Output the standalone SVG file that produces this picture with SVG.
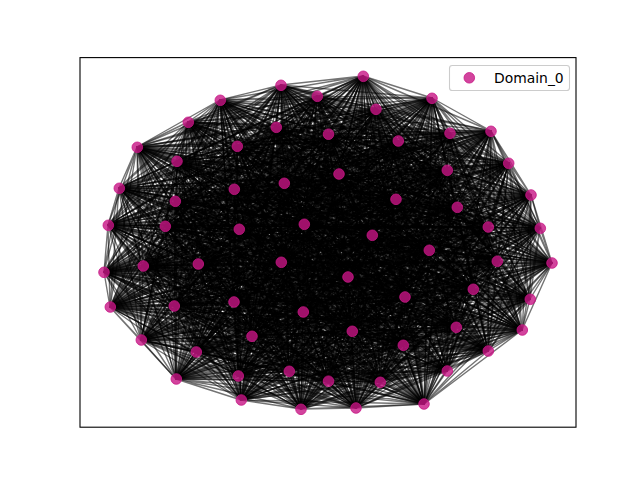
<svg xmlns="http://www.w3.org/2000/svg" width="640" height="480" viewBox="0 0 640 480">
<style>
.e{fill:none;stroke:#000;stroke-opacity:.55;stroke-width:1.4;stroke-linejoin:round}
.n circle{fill:#c71585;fill-opacity:.8;stroke:#c71585;stroke-opacity:.8;stroke-width:1}
.t{font-family:"DejaVu Sans",sans-serif;font-size:13.9px;fill:#000}
</style>
<rect x="0" y="0" width="640" height="480" fill="#fff"/>
<rect x="80" y="57.6" width="496" height="369.6" fill="#fff"/>
<g id="edges">
<polyline class="e" points="380,382 363,76 432,98 328,381 491,131 289,371 509,163 238,376 531,195 447,371 540,228 196,352 552,263 403,345 530,299 352,331 522,330 252,336 488,351 456,327 424,404 303,312 356,408 234,302 301,409 174,306 241,400 405,297 176,379 473,289 141,340 348,277 110,307 281,262 104,272 198,264 108,225 143,266 119,188 497,261 137,147 488,227 188,122 429,250 220,100 372,235 281,85 165,226 317,96 239,229 376,109 304,224 328,134 457,207 276,127 396,199 237,146 175,201 177,161 234,189 398,141 284,183 450,133 339,174 447,170 380,382"/>
<polyline class="e" points="380,382 432,98 491,131 363,76 509,163 328,381 531,195 289,371 540,228 238,376 552,263 447,371 530,299 196,352 522,330 403,345 488,351 352,331 424,404 252,336 356,408 456,327 301,409 303,312 241,400 234,302 176,379 174,306 141,340 405,297 110,307 473,289 104,272 348,277 108,225 281,262 119,188 198,264 137,147 143,266 188,122 497,261 220,100 488,227 281,85 429,250 317,96 372,235 376,109 165,226 328,134 239,229 276,127 304,224 237,146 457,207 177,161 396,199 398,141 175,201 450,133 234,189 447,170 284,183 339,174 380,382"/>
<polyline class="e" points="380,382 491,131 509,163 432,98 531,195 363,76 540,228 328,381 552,263 289,371 530,299 238,376 522,330 447,371 488,351 196,352 424,404 403,345 356,408 352,331 301,409 252,336 241,400 456,327 176,379 303,312 141,340 234,302 110,307 174,306 104,272 405,297 108,225 473,289 119,188 348,277 137,147 281,262 188,122 198,264 220,100 143,266 281,85 497,261 317,96 488,227 376,109 429,250 328,134 372,235 276,127 165,226 237,146 239,229 177,161 304,224 398,141 457,207 450,133 396,199 447,170 175,201 339,174 234,189 284,183 380,382"/>
<polyline class="e" points="380,382 509,163 531,195 491,131 540,228 432,98 552,263 363,76 530,299 328,381 522,330 289,371 488,351 238,376 424,404 447,371 356,408 196,352 301,409 403,345 241,400 352,331 176,379 252,336 141,340 456,327 110,307 303,312 104,272 234,302 108,225 174,306 119,188 405,297 137,147 473,289 188,122 348,277 220,100 281,262 281,85 198,264 317,96 143,266 376,109 497,261 328,134 488,227 276,127 429,250 237,146 372,235 177,161 165,226 398,141 239,229 450,133 304,224 447,170 457,207 339,174 396,199 284,183 175,201 234,189 380,382"/>
<polyline class="e" points="380,382 531,195 540,228 509,163 552,263 491,131 530,299 432,98 522,330 363,76 488,351 328,381 424,404 289,371 356,408 238,376 301,409 447,371 241,400 196,352 176,379 403,345 141,340 352,331 110,307 252,336 104,272 456,327 108,225 303,312 119,188 234,302 137,147 174,306 188,122 405,297 220,100 473,289 281,85 348,277 317,96 281,262 376,109 198,264 328,134 143,266 276,127 497,261 237,146 488,227 177,161 429,250 398,141 372,235 450,133 165,226 447,170 239,229 339,174 304,224 284,183 457,207 234,189 396,199 175,201 380,382"/>
<polyline class="e" points="380,382 540,228 552,263 531,195 530,299 509,163 522,330 491,131 488,351 432,98 424,404 363,76 356,408 328,381 301,409 289,371 241,400 238,376 176,379 447,371 141,340 196,352 110,307 403,345 104,272 352,331 108,225 252,336 119,188 456,327 137,147 303,312 188,122 234,302 220,100 174,306 281,85 405,297 317,96 473,289 376,109 348,277 328,134 281,262 276,127 198,264 237,146 143,266 177,161 497,261 398,141 488,227 450,133 429,250 447,170 372,235 339,174 165,226 284,183 239,229 234,189 304,224 175,201 457,207 396,199 380,382"/>
<polyline class="e" points="380,382 552,263 530,299 540,228 522,330 531,195 488,351 509,163 424,404 491,131 356,408 432,98 301,409 363,76 241,400 328,381 176,379 289,371 141,340 238,376 110,307 447,371 104,272 196,352 108,225 403,345 119,188 352,331 137,147 252,336 188,122 456,327 220,100 303,312 281,85 234,302 317,96 174,306 376,109 405,297 328,134 473,289 276,127 348,277 237,146 281,262 177,161 198,264 398,141 143,266 450,133 497,261 447,170 488,227 339,174 429,250 284,183 372,235 234,189 165,226 175,201 239,229 396,199 304,224 457,207 380,382"/>
<polyline class="e" points="380,382 530,299 522,330 552,263 488,351 540,228 424,404 531,195 356,408 509,163 301,409 491,131 241,400 432,98 176,379 363,76 141,340 328,381 110,307 289,371 104,272 238,376 108,225 447,371 119,188 196,352 137,147 403,345 188,122 352,331 220,100 252,336 281,85 456,327 317,96 303,312 376,109 234,302 328,134 174,306 276,127 405,297 237,146 473,289 177,161 348,277 398,141 281,262 450,133 198,264 447,170 143,266 339,174 497,261 284,183 488,227 234,189 429,250 175,201 372,235 396,199 165,226 457,207 239,229 304,224 380,382"/>
<polyline class="e" points="380,382 522,330 488,351 530,299 424,404 552,263 356,408 540,228 301,409 531,195 241,400 509,163 176,379 491,131 141,340 432,98 110,307 363,76 104,272 328,381 108,225 289,371 119,188 238,376 137,147 447,371 188,122 196,352 220,100 403,345 281,85 352,331 317,96 252,336 376,109 456,327 328,134 303,312 276,127 234,302 237,146 174,306 177,161 405,297 398,141 473,289 450,133 348,277 447,170 281,262 339,174 198,264 284,183 143,266 234,189 497,261 175,201 488,227 396,199 429,250 457,207 372,235 304,224 165,226 239,229 380,382"/>
<polyline class="e" points="380,382 488,351 424,404 522,330 356,408 530,299 301,409 552,263 241,400 540,228 176,379 531,195 141,340 509,163 110,307 491,131 104,272 432,98 108,225 363,76 119,188 328,381 137,147 289,371 188,122 238,376 220,100 447,371 281,85 196,352 317,96 403,345 376,109 352,331 328,134 252,336 276,127 456,327 237,146 303,312 177,161 234,302 398,141 174,306 450,133 405,297 447,170 473,289 339,174 348,277 284,183 281,262 234,189 198,264 175,201 143,266 396,199 497,261 457,207 488,227 304,224 429,250 239,229 372,235 165,226 380,382"/>
<polyline class="e" points="380,382 424,404 356,408 488,351 301,409 522,330 241,400 530,299 176,379 552,263 141,340 540,228 110,307 531,195 104,272 509,163 108,225 491,131 119,188 432,98 137,147 363,76 188,122 328,381 220,100 289,371 281,85 238,376 317,96 447,371 376,109 196,352 328,134 403,345 276,127 352,331 237,146 252,336 177,161 456,327 398,141 303,312 450,133 234,302 447,170 174,306 339,174 405,297 284,183 473,289 234,189 348,277 175,201 281,262 396,199 198,264 457,207 143,266 304,224 497,261 239,229 488,227 165,226 429,250 372,235 380,382"/>
<polyline class="e" points="380,382 356,408 301,409 424,404 241,400 488,351 176,379 522,330 141,340 530,299 110,307 552,263 104,272 540,228 108,225 531,195 119,188 509,163 137,147 491,131 188,122 432,98 220,100 363,76 281,85 328,381 317,96 289,371 376,109 238,376 328,134 447,371 276,127 196,352 237,146 403,345 177,161 352,331 398,141 252,336 450,133 456,327 447,170 303,312 339,174 234,302 284,183 174,306 234,189 405,297 175,201 473,289 396,199 348,277 457,207 281,262 304,224 198,264 239,229 143,266 165,226 497,261 372,235 488,227 429,250 380,382"/>
<polyline class="e" points="380,382 301,409 241,400 356,408 176,379 424,404 141,340 488,351 110,307 522,330 104,272 530,299 108,225 552,263 119,188 540,228 137,147 531,195 188,122 509,163 220,100 491,131 281,85 432,98 317,96 363,76 376,109 328,381 328,134 289,371 276,127 238,376 237,146 447,371 177,161 196,352 398,141 403,345 450,133 352,331 447,170 252,336 339,174 456,327 284,183 303,312 234,189 234,302 175,201 174,306 396,199 405,297 457,207 473,289 304,224 348,277 239,229 281,262 165,226 198,264 372,235 143,266 429,250 497,261 488,227 380,382"/>
<polyline class="e" points="380,382 241,400 176,379 301,409 141,340 356,408 110,307 424,404 104,272 488,351 108,225 522,330 119,188 530,299 137,147 552,263 188,122 540,228 220,100 531,195 281,85 509,163 317,96 491,131 376,109 432,98 328,134 363,76 276,127 328,381 237,146 289,371 177,161 238,376 398,141 447,371 450,133 196,352 447,170 403,345 339,174 352,331 284,183 252,336 234,189 456,327 175,201 303,312 396,199 234,302 457,207 174,306 304,224 405,297 239,229 473,289 165,226 348,277 372,235 281,262 429,250 198,264 488,227 143,266 497,261 380,382"/>
<polyline class="e" points="380,382 176,379 141,340 241,400 110,307 301,409 104,272 356,408 108,225 424,404 119,188 488,351 137,147 522,330 188,122 530,299 220,100 552,263 281,85 540,228 317,96 531,195 376,109 509,163 328,134 491,131 276,127 432,98 237,146 363,76 177,161 328,381 398,141 289,371 450,133 238,376 447,170 447,371 339,174 196,352 284,183 403,345 234,189 352,331 175,201 252,336 396,199 456,327 457,207 303,312 304,224 234,302 239,229 174,306 165,226 405,297 372,235 473,289 429,250 348,277 488,227 281,262 497,261 198,264 143,266 380,382"/>
<polyline class="e" points="380,382 141,340 110,307 176,379 104,272 241,400 108,225 301,409 119,188 356,408 137,147 424,404 188,122 488,351 220,100 522,330 281,85 530,299 317,96 552,263 376,109 540,228 328,134 531,195 276,127 509,163 237,146 491,131 177,161 432,98 398,141 363,76 450,133 328,381 447,170 289,371 339,174 238,376 284,183 447,371 234,189 196,352 175,201 403,345 396,199 352,331 457,207 252,336 304,224 456,327 239,229 303,312 165,226 234,302 372,235 174,306 429,250 405,297 488,227 473,289 497,261 348,277 143,266 281,262 198,264 380,382"/>
<polyline class="e" points="380,382 110,307 104,272 141,340 108,225 176,379 119,188 241,400 137,147 301,409 188,122 356,408 220,100 424,404 281,85 488,351 317,96 522,330 376,109 530,299 328,134 552,263 276,127 540,228 237,146 531,195 177,161 509,163 398,141 491,131 450,133 432,98 447,170 363,76 339,174 328,381 284,183 289,371 234,189 238,376 175,201 447,371 396,199 196,352 457,207 403,345 304,224 352,331 239,229 252,336 165,226 456,327 372,235 303,312 429,250 234,302 488,227 174,306 497,261 405,297 143,266 473,289 198,264 348,277 281,262 380,382"/>
<polyline class="e" points="380,382 104,272 108,225 110,307 119,188 141,340 137,147 176,379 188,122 241,400 220,100 301,409 281,85 356,408 317,96 424,404 376,109 488,351 328,134 522,330 276,127 530,299 237,146 552,263 177,161 540,228 398,141 531,195 450,133 509,163 447,170 491,131 339,174 432,98 284,183 363,76 234,189 328,381 175,201 289,371 396,199 238,376 457,207 447,371 304,224 196,352 239,229 403,345 165,226 352,331 372,235 252,336 429,250 456,327 488,227 303,312 497,261 234,302 143,266 174,306 198,264 405,297 281,262 473,289 348,277 380,382"/>
<polyline class="e" points="380,382 108,225 119,188 104,272 137,147 110,307 188,122 141,340 220,100 176,379 281,85 241,400 317,96 301,409 376,109 356,408 328,134 424,404 276,127 488,351 237,146 522,330 177,161 530,299 398,141 552,263 450,133 540,228 447,170 531,195 339,174 509,163 284,183 491,131 234,189 432,98 175,201 363,76 396,199 328,381 457,207 289,371 304,224 238,376 239,229 447,371 165,226 196,352 372,235 403,345 429,250 352,331 488,227 252,336 497,261 456,327 143,266 303,312 198,264 234,302 281,262 174,306 348,277 405,297 473,289 380,382"/>
<polyline class="e" points="380,382 119,188 137,147 108,225 188,122 104,272 220,100 110,307 281,85 141,340 317,96 176,379 376,109 241,400 328,134 301,409 276,127 356,408 237,146 424,404 177,161 488,351 398,141 522,330 450,133 530,299 447,170 552,263 339,174 540,228 284,183 531,195 234,189 509,163 175,201 491,131 396,199 432,98 457,207 363,76 304,224 328,381 239,229 289,371 165,226 238,376 372,235 447,371 429,250 196,352 488,227 403,345 497,261 352,331 143,266 252,336 198,264 456,327 281,262 303,312 348,277 234,302 473,289 174,306 405,297 380,382"/>
<polyline class="e" points="380,382 137,147 188,122 119,188 220,100 108,225 281,85 104,272 317,96 110,307 376,109 141,340 328,134 176,379 276,127 241,400 237,146 301,409 177,161 356,408 398,141 424,404 450,133 488,351 447,170 522,330 339,174 530,299 284,183 552,263 234,189 540,228 175,201 531,195 396,199 509,163 457,207 491,131 304,224 432,98 239,229 363,76 165,226 328,381 372,235 289,371 429,250 238,376 488,227 447,371 497,261 196,352 143,266 403,345 198,264 352,331 281,262 252,336 348,277 456,327 473,289 303,312 405,297 234,302 174,306 380,382"/>
<polyline class="e" points="380,382 188,122 220,100 137,147 281,85 119,188 317,96 108,225 376,109 104,272 328,134 110,307 276,127 141,340 237,146 176,379 177,161 241,400 398,141 301,409 450,133 356,408 447,170 424,404 339,174 488,351 284,183 522,330 234,189 530,299 175,201 552,263 396,199 540,228 457,207 531,195 304,224 509,163 239,229 491,131 165,226 432,98 372,235 363,76 429,250 328,381 488,227 289,371 497,261 238,376 143,266 447,371 198,264 196,352 281,262 403,345 348,277 352,331 473,289 252,336 405,297 456,327 174,306 303,312 234,302 380,382"/>
<polyline class="e" points="380,382 220,100 281,85 188,122 317,96 137,147 376,109 119,188 328,134 108,225 276,127 104,272 237,146 110,307 177,161 141,340 398,141 176,379 450,133 241,400 447,170 301,409 339,174 356,408 284,183 424,404 234,189 488,351 175,201 522,330 396,199 530,299 457,207 552,263 304,224 540,228 239,229 531,195 165,226 509,163 372,235 491,131 429,250 432,98 488,227 363,76 497,261 328,381 143,266 289,371 198,264 238,376 281,262 447,371 348,277 196,352 473,289 403,345 405,297 352,331 174,306 252,336 234,302 456,327 303,312 380,382"/>
<polyline class="e" points="380,382 281,85 317,96 220,100 376,109 188,122 328,134 137,147 276,127 119,188 237,146 108,225 177,161 104,272 398,141 110,307 450,133 141,340 447,170 176,379 339,174 241,400 284,183 301,409 234,189 356,408 175,201 424,404 396,199 488,351 457,207 522,330 304,224 530,299 239,229 552,263 165,226 540,228 372,235 531,195 429,250 509,163 488,227 491,131 497,261 432,98 143,266 363,76 198,264 328,381 281,262 289,371 348,277 238,376 473,289 447,371 405,297 196,352 174,306 403,345 234,302 352,331 303,312 252,336 456,327 380,382"/>
<polyline class="e" points="380,382 317,96 376,109 281,85 328,134 220,100 276,127 188,122 237,146 137,147 177,161 119,188 398,141 108,225 450,133 104,272 447,170 110,307 339,174 141,340 284,183 176,379 234,189 241,400 175,201 301,409 396,199 356,408 457,207 424,404 304,224 488,351 239,229 522,330 165,226 530,299 372,235 552,263 429,250 540,228 488,227 531,195 497,261 509,163 143,266 491,131 198,264 432,98 281,262 363,76 348,277 328,381 473,289 289,371 405,297 238,376 174,306 447,371 234,302 196,352 303,312 403,345 456,327 352,331 252,336 380,382"/>
<polyline class="e" points="380,382 376,109 328,134 317,96 276,127 281,85 237,146 220,100 177,161 188,122 398,141 137,147 450,133 119,188 447,170 108,225 339,174 104,272 284,183 110,307 234,189 141,340 175,201 176,379 396,199 241,400 457,207 301,409 304,224 356,408 239,229 424,404 165,226 488,351 372,235 522,330 429,250 530,299 488,227 552,263 497,261 540,228 143,266 531,195 198,264 509,163 281,262 491,131 348,277 432,98 473,289 363,76 405,297 328,381 174,306 289,371 234,302 238,376 303,312 447,371 456,327 196,352 252,336 403,345 352,331 380,382"/>
<polyline class="e" points="380,382 328,134 276,127 376,109 237,146 317,96 177,161 281,85 398,141 220,100 450,133 188,122 447,170 137,147 339,174 119,188 284,183 108,225 234,189 104,272 175,201 110,307 396,199 141,340 457,207 176,379 304,224 241,400 239,229 301,409 165,226 356,408 372,235 424,404 429,250 488,351 488,227 522,330 497,261 530,299 143,266 552,263 198,264 540,228 281,262 531,195 348,277 509,163 473,289 491,131 405,297 432,98 174,306 363,76 234,302 328,381 303,312 289,371 456,327 238,376 252,336 447,371 352,331 196,352 403,345 380,382"/>
<polyline class="e" points="380,382 276,127 237,146 328,134 177,161 376,109 398,141 317,96 450,133 281,85 447,170 220,100 339,174 188,122 284,183 137,147 234,189 119,188 175,201 108,225 396,199 104,272 457,207 110,307 304,224 141,340 239,229 176,379 165,226 241,400 372,235 301,409 429,250 356,408 488,227 424,404 497,261 488,351 143,266 522,330 198,264 530,299 281,262 552,263 348,277 540,228 473,289 531,195 405,297 509,163 174,306 491,131 234,302 432,98 303,312 363,76 456,327 328,381 252,336 289,371 352,331 238,376 403,345 447,371 196,352 380,382"/>
<polyline class="e" points="380,382 237,146 177,161 276,127 398,141 328,134 450,133 376,109 447,170 317,96 339,174 281,85 284,183 220,100 234,189 188,122 175,201 137,147 396,199 119,188 457,207 108,225 304,224 104,272 239,229 110,307 165,226 141,340 372,235 176,379 429,250 241,400 488,227 301,409 497,261 356,408 143,266 424,404 198,264 488,351 281,262 522,330 348,277 530,299 473,289 552,263 405,297 540,228 174,306 531,195 234,302 509,163 303,312 491,131 456,327 432,98 252,336 363,76 352,331 328,381 403,345 289,371 196,352 238,376 447,371 380,382"/>
<polyline class="e" points="380,382 177,161 398,141 237,146 450,133 276,127 447,170 328,134 339,174 376,109 284,183 317,96 234,189 281,85 175,201 220,100 396,199 188,122 457,207 137,147 304,224 119,188 239,229 108,225 165,226 104,272 372,235 110,307 429,250 141,340 488,227 176,379 497,261 241,400 143,266 301,409 198,264 356,408 281,262 424,404 348,277 488,351 473,289 522,330 405,297 530,299 174,306 552,263 234,302 540,228 303,312 531,195 456,327 509,163 252,336 491,131 352,331 432,98 403,345 363,76 196,352 328,381 447,371 289,371 238,376 380,382"/>
<polyline class="e" points="380,382 398,141 450,133 177,161 447,170 237,146 339,174 276,127 284,183 328,134 234,189 376,109 175,201 317,96 396,199 281,85 457,207 220,100 304,224 188,122 239,229 137,147 165,226 119,188 372,235 108,225 429,250 104,272 488,227 110,307 497,261 141,340 143,266 176,379 198,264 241,400 281,262 301,409 348,277 356,408 473,289 424,404 405,297 488,351 174,306 522,330 234,302 530,299 303,312 552,263 456,327 540,228 252,336 531,195 352,331 509,163 403,345 491,131 196,352 432,98 447,371 363,76 238,376 328,381 289,371 380,382"/>
<polyline class="e" points="380,382 450,133 447,170 398,141 339,174 177,161 284,183 237,146 234,189 276,127 175,201 328,134 396,199 376,109 457,207 317,96 304,224 281,85 239,229 220,100 165,226 188,122 372,235 137,147 429,250 119,188 488,227 108,225 497,261 104,272 143,266 110,307 198,264 141,340 281,262 176,379 348,277 241,400 473,289 301,409 405,297 356,408 174,306 424,404 234,302 488,351 303,312 522,330 456,327 530,299 252,336 552,263 352,331 540,228 403,345 531,195 196,352 509,163 447,371 491,131 238,376 432,98 289,371 363,76 328,381 380,382"/>
</g>
<g id="nodes" class="n">
<g id="n0"><circle cx="363.3" cy="76.3" r="5.3"/></g>
<g id="n1"><circle cx="432" cy="98.3" r="5.3"/></g>
<g id="n2"><circle cx="491" cy="131.3" r="5.3"/></g>
<g id="n3"><circle cx="508.7" cy="163.3" r="5.3"/></g>
<g id="n4"><circle cx="531" cy="195" r="5.3"/></g>
<g id="n5"><circle cx="540.3" cy="228.3" r="5.3"/></g>
<g id="n6"><circle cx="552" cy="263" r="5.3"/></g>
<g id="n7"><circle cx="530.3" cy="299.3" r="5.3"/></g>
<g id="n8"><circle cx="522.3" cy="330" r="5.3"/></g>
<g id="n9"><circle cx="488.3" cy="351" r="5.3"/></g>
<g id="n10"><circle cx="424" cy="404" r="5.3"/></g>
<g id="n11"><circle cx="356" cy="408" r="5.3"/></g>
<g id="n12"><circle cx="301" cy="409.3" r="5.3"/></g>
<g id="n13"><circle cx="241.3" cy="400" r="5.3"/></g>
<g id="n14"><circle cx="176.3" cy="379" r="5.3"/></g>
<g id="n15"><circle cx="141.3" cy="340" r="5.3"/></g>
<g id="n16"><circle cx="110.3" cy="307" r="5.3"/></g>
<g id="n17"><circle cx="104" cy="272.3" r="5.3"/></g>
<g id="n18"><circle cx="108.3" cy="225.3" r="5.3"/></g>
<g id="n19"><circle cx="119.3" cy="188.3" r="5.3"/></g>
<g id="n20"><circle cx="137.3" cy="147.3" r="5.3"/></g>
<g id="n21"><circle cx="188.3" cy="122.3" r="5.3"/></g>
<g id="n22"><circle cx="220.3" cy="100.3" r="5.3"/></g>
<g id="n23"><circle cx="281" cy="85.3" r="5.3"/></g>
<g id="n24"><circle cx="317.3" cy="96.3" r="5.3"/></g>
<g id="n25"><circle cx="376" cy="109.3" r="5.3"/></g>
<g id="n26"><circle cx="328.5" cy="134.2" r="5.3"/></g>
<g id="n27"><circle cx="276.3" cy="127.3" r="5.3"/></g>
<g id="n28"><circle cx="237.3" cy="146.3" r="5.3"/></g>
<g id="n29"><circle cx="177" cy="161.3" r="5.3"/></g>
<g id="n30"><circle cx="398.3" cy="141" r="5.3"/></g>
<g id="n31"><circle cx="450" cy="133.3" r="5.3"/></g>
<g id="n32"><circle cx="447.3" cy="170.3" r="5.3"/></g>
<g id="n33"><circle cx="339" cy="174" r="5.3"/></g>
<g id="n34"><circle cx="284.3" cy="183.3" r="5.3"/></g>
<g id="n35"><circle cx="234.3" cy="189.3" r="5.3"/></g>
<g id="n36"><circle cx="175.3" cy="201.3" r="5.3"/></g>
<g id="n37"><circle cx="396" cy="199.3" r="5.3"/></g>
<g id="n38"><circle cx="457.3" cy="207.3" r="5.3"/></g>
<g id="n39"><circle cx="304.3" cy="224.3" r="5.3"/></g>
<g id="n40"><circle cx="239.3" cy="229.3" r="5.3"/></g>
<g id="n41"><circle cx="165.3" cy="226.3" r="5.3"/></g>
<g id="n42"><circle cx="372.3" cy="235.3" r="5.3"/></g>
<g id="n43"><circle cx="429.3" cy="250.3" r="5.3"/></g>
<g id="n44"><circle cx="488.3" cy="227" r="5.3"/></g>
<g id="n45"><circle cx="497.3" cy="261.3" r="5.3"/></g>
<g id="n46"><circle cx="143.3" cy="266" r="5.3"/></g>
<g id="n47"><circle cx="198.3" cy="264" r="5.3"/></g>
<g id="n48"><circle cx="281.3" cy="262.3" r="5.3"/></g>
<g id="n49"><circle cx="348" cy="277" r="5.3"/></g>
<g id="n50"><circle cx="473.3" cy="289.3" r="5.3"/></g>
<g id="n51"><circle cx="405" cy="297" r="5.3"/></g>
<g id="n52"><circle cx="174.3" cy="306" r="5.3"/></g>
<g id="n53"><circle cx="234" cy="302" r="5.3"/></g>
<g id="n54"><circle cx="303.3" cy="312" r="5.3"/></g>
<g id="n55"><circle cx="456.3" cy="327.3" r="5.3"/></g>
<g id="n56"><circle cx="252" cy="336.3" r="5.3"/></g>
<g id="n57"><circle cx="352.3" cy="331.3" r="5.3"/></g>
<g id="n58"><circle cx="403.3" cy="345.3" r="5.3"/></g>
<g id="n59"><circle cx="196.3" cy="352" r="5.3"/></g>
<g id="n60"><circle cx="447.3" cy="371" r="5.3"/></g>
<g id="n61"><circle cx="238.3" cy="376" r="5.3"/></g>
<g id="n62"><circle cx="289.3" cy="371.3" r="5.3"/></g>
<g id="n63"><circle cx="328.5" cy="381.2" r="5.3"/></g>
<g id="n64"><circle cx="380.3" cy="382.3" r="5.3"/></g>
</g>
<rect x="80" y="57.6" width="496" height="369.6" fill="none" stroke="#000" stroke-width="1.1"/>
<g id="legend">
<rect x="449.5" y="65.5" width="120" height="25" rx="2.8" fill="#fff" fill-opacity=".8" stroke="#ccc" stroke-width="1.1"/>
<g class="n"><circle cx="469.3" cy="77.8" r="5.3"/></g>
<text class="t" x="494" y="82.5">Domain_0</text>
</g>
</svg>
